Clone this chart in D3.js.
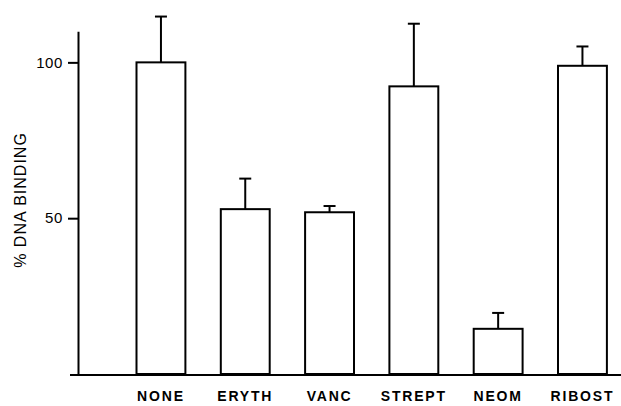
<!DOCTYPE html>
<html>
<head>
<meta charset="utf-8">
<script src="https://cdn.jsdelivr.net/npm/d3@7"></script>
<style>
  html, body { margin: 0; padding: 0; background: #fff; }
  svg { display: block; }
</style>
</head>
<body>
<svg id="chart" width="621" height="406"></svg>
<script>
const categories = ["NONE", "ERYTH", "VANC", "STREPT", "NEOM", "RIBOST"];
const values = [100, 52.9, 51.9, 92.3, 14.5, 98.9];
const errorTops = [114.7, 62.7, 53.9, 112.4, 19.6, 105.1];
const yTicks = [50, 100];
const yTitle = "% DNA BINDING";

const svg = d3.select("#chart");
const font = "'Liberation Sans', Arial, sans-serif";

const y = d3.scaleLinear().domain([0, 110]).range([374, 31.2]);
const x = d3.scaleBand().domain(categories).range([118.8, 624.6])
  .paddingInner(0.42).paddingOuter(0.21);

// bars
svg.append("g").selectAll("rect").data(categories).join("rect")
  .attr("x", d => x(d))
  .attr("y", (d, i) => y(values[i]))
  .attr("width", x.bandwidth())
  .attr("height", (d, i) => y(0) - y(values[i]))
  .attr("fill", "#fff").attr("stroke", "#000").attr("stroke-width", 2);

// error bars
const eg = svg.append("g").attr("stroke", "#000").attr("stroke-width", 2);
eg.selectAll("line.v").data(categories).join("line").attr("class", "v")
  .attr("x1", d => x(d) + x.bandwidth() / 2)
  .attr("x2", d => x(d) + x.bandwidth() / 2)
  .attr("y1", (d, i) => y(values[i]))
  .attr("y2", (d, i) => y(errorTops[i]));
eg.selectAll("line.c").data(categories).join("line").attr("class", "c")
  .attr("x1", d => x(d) + x.bandwidth() / 2 - 6)
  .attr("x2", d => x(d) + x.bandwidth() / 2 + 6)
  .attr("y1", (d, i) => y(errorTops[i]))
  .attr("y2", (d, i) => y(errorTops[i]));

// y axis
const yAxis = svg.append("g").attr("transform", "translate(78,0)")
  .call(d3.axisLeft(y).tickValues(yTicks).tickSize(10).tickSizeOuter(0).tickPadding(5));
yAxis.select(".domain").attr("stroke-width", 2);
yAxis.selectAll(".tick line").attr("stroke-width", 2);
yAxis.selectAll(".tick text").attr("font-family", font).attr("font-size", 15)
  .attr("letter-spacing", "0.6px").attr("fill", "#000");

// x axis baseline
const xAxis = svg.append("g").attr("transform", "translate(0,375)")
  .call(d3.axisBottom(x).tickSize(0).tickPadding(16));
xAxis.select(".domain").remove();
xAxis.append("line").attr("x1", 70).attr("x2", 621).attr("y1", 0).attr("y2", 0)
  .attr("stroke", "#000").attr("stroke-width", 2);
xAxis.selectAll(".tick text").attr("font-family", font).attr("font-size", 14)
  .attr("font-weight", "bold").attr("letter-spacing", "1.8px").attr("fill", "#000");

// y title
svg.append("text")
  .attr("transform", "translate(26,200) rotate(-90)")
  .attr("text-anchor", "middle")
  .attr("font-family", font).attr("font-size", 16).attr("letter-spacing", "1px")
  .attr("fill", "#000")
  .text(yTitle);
</script>
</body>
</html>
